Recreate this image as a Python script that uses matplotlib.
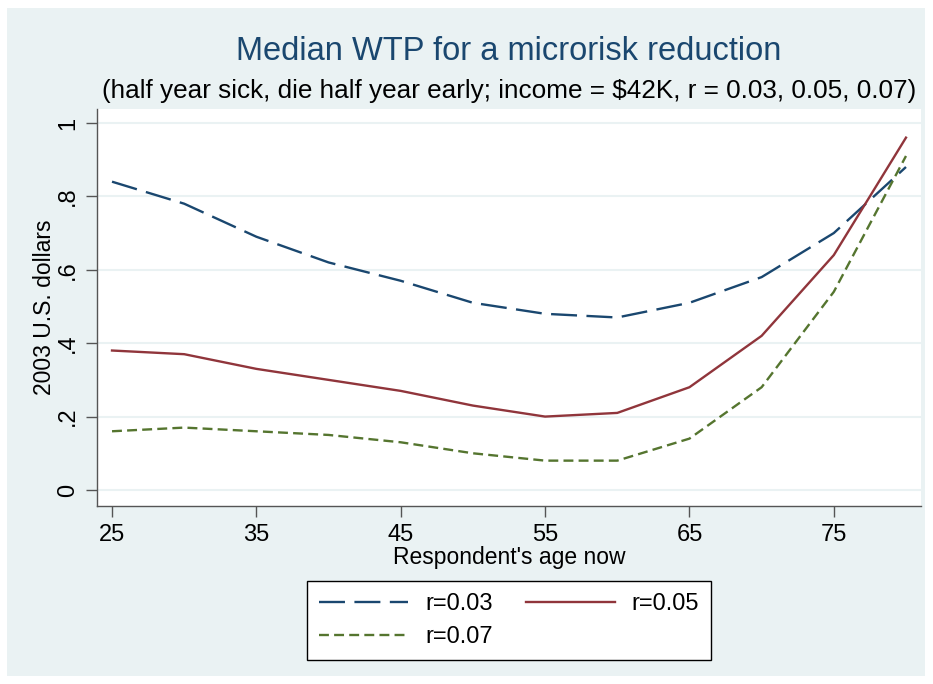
import matplotlib
matplotlib.use("Agg")
from matplotlib import pyplot as plt
from matplotlib.patches import Rectangle

plt.rcParams['font.family'] = ['Liberation Sans', 'DejaVu Sans']

ages = [25, 30, 35, 40, 45, 50, 55, 60, 65, 70, 75, 80]
wtp_r03 = [0.84, 0.78, 0.69, 0.62, 0.57, 0.51, 0.48, 0.47, 0.51, 0.58, 0.70, 0.88]
wtp_r05 = [0.38, 0.37, 0.33, 0.30, 0.27, 0.23, 0.20, 0.21, 0.28, 0.42, 0.64, 0.96]
wtp_r07 = [0.16, 0.17, 0.16, 0.15, 0.13, 0.10, 0.08, 0.08, 0.14, 0.28, 0.54, 0.91]
x_ticks = [25, 35, 45, 55, 65, 75]
y_ticks = [0, 0.2, 0.4, 0.6, 0.8, 1]
y_tick_labels = ['0', '.2', '.4', '.6', '.8', '1']

bg = '#eaf2f3'
fig = plt.figure(figsize=(9.33, 6.84), dpi=100)
fig.patch.set_facecolor('white')
fig.patches.append(Rectangle((7 / 933, 1 - 676 / 684), 918 / 933, 668 / 684,
                             transform=fig.transFigure, facecolor=bg,
                             edgecolor='none', zorder=-10))

ax = fig.add_axes([97 / 933, 1 - 506 / 684, 824 / 933, 397 / 684])
ax.set_facecolor('white')

l03, = ax.plot(ages, wtp_r03, color='#1a476f', lw=1.7, dashes=(11, 4), label='r=0.03')
l05, = ax.plot(ages, wtp_r05, color='#90353b', lw=1.7, label='r=0.05')
l07, = ax.plot(ages, wtp_r07, color='#55752f', lw=1.7, dashes=(4.2, 2.2), label='r=0.07')

ax.set_xlim(23.96, 81.04)
ax.set_ylim(-0.0436, 1.038)
ax.set_xticks(x_ticks)
ax.set_yticks(y_ticks)
ax.set_yticklabels(y_tick_labels, rotation=90, va='center')
ax.grid(axis='y', color=bg, lw=1.5)
ax.set_axisbelow(True)
for s in ['top', 'right']:
    ax.spines[s].set_visible(False)
for s in ['left', 'bottom']:
    ax.spines[s].set_color('#555555')
    ax.spines[s].set_linewidth(1.0)
ax.tick_params(length=8, width=1.0, color='#555555', labelsize=17, pad=5)

ax.set_ylabel('2003 U.S. dollars', fontsize=16.5, va='center')
ax.yaxis.set_label_coords(-0.0633, 0.5)
ax.set_xlabel("Respondent's age now", fontsize=16.5, labelpad=0)

fig.text(509 / 933, 1 - 52 / 684, 'Median WTP for a microrisk reduction',
         ha='center', va='center', fontsize=23.5, color='#1a476f')
fig.text(509 / 933, 1 - 91 / 684,
         '(half year sick, die half year early; income = $42K, r = 0.03, 0.05, 0.07)',
         ha='center', va='center', fontsize=18.8)

# Stata fills the legend row by row; matplotlib goes column by column
leg = fig.legend([l03, l07, l05], ['r=0.03', 'r=0.07', 'r=0.05'],
                 loc='center', bbox_to_anchor=(509 / 933, 1 - 620.5 / 684),
                 ncol=2, fontsize=17, frameon=True, fancybox=False, framealpha=1,
                 handlelength=3.8, handletextpad=0.7, columnspacing=1.4,
                 borderpad=0.5, labelspacing=0.45, borderaxespad=0)
leg.get_frame().set_edgecolor('black')
leg.get_frame().set_linewidth(1.0)

fig.savefig('out.png', dpi=100, facecolor=fig.get_facecolor())
